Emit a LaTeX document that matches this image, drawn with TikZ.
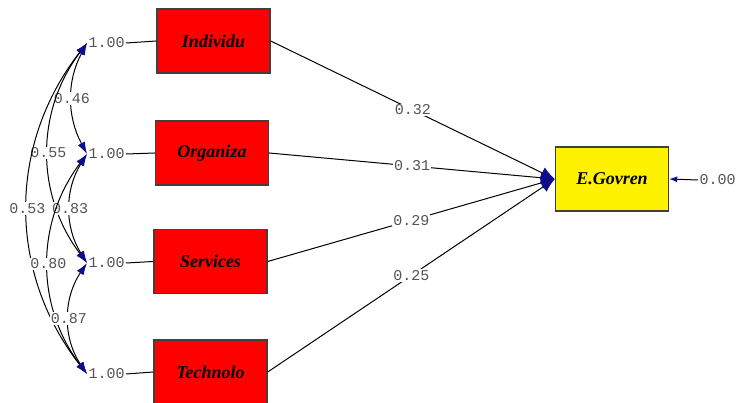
\documentclass[tikz,border=0pt]{standalone}
\usepackage{fontspec}
\setmainfont{Liberation Serif}
\newfontfamily\monofont{Liberation Mono}
\usetikzlibrary{arrows.meta,positioning,calc}
\definecolor{navytip}{rgb}{0.05,0.05,0.55}
\definecolor{labgray}{rgb}{0.33,0.33,0.33}
\tikzset{
    % Define standard arrow tip
    >={Latex[length=12pt,width=8pt,color=navytip]},
    % Define box styles
    latent/.style={
           draw=black!75,
           line width=1.4pt,
           fill=red,
           minimum width=113pt,
           minimum height=64pt,
           font=\fontsize{18}{18}\selectfont\bfseries\itshape},
    target/.style={
           latent,
           fill=yellow},
    % Define number styles
    num/.style={
           font=\fontsize{15}{15}\selectfont\monofont,
           text=labgray,
           inner sep=1pt},
    numbg/.style={
           num,
           fill=white},
    corr/.style={
           <->,
           line width=1pt}
}
\begin{document}
\begin{tikzpicture}[x=1pt,y=-1pt,line width=1pt]
\useasboundingbox (0,0) rectangle (739,403);

\node[latent] (ind) at (213.5,41) {Individu};
\node[latent] (org) at (212,153) {Organiza};
\node[latent] (ser) at (210.5,261.5) {Services};
\node[latent] (tec) at (210.5,372) {Technolo};

\node[target] (egov) at (612,179) {E.Govren};

\node[num, anchor=west] (v1) at (87,43) {1.00};
\node[num, anchor=west] (v2) at (87,154) {1.00};
\node[num, anchor=west] (v3) at (87,263) {1.00};
\node[num, anchor=west] (v4) at (87,374) {1.00};

\draw (v1.east) -- (ind.west);
\draw (v2.east) -- (org.west);
\draw (v3.east) -- (ser.west);
\draw (v4.east) -- (tec.west);

% paths to E.Govren
\draw[->, >={Latex[length=14pt,width=12pt,color=navytip]}] (ind.east) -- node[numbg] {0.32} (egov.west);
\draw[->, >={Latex[length=14pt,width=12pt,color=navytip]}] (org.east) -- node[numbg] {0.31} (egov.west);
\draw[->, >={Latex[length=14pt,width=12pt,color=navytip]}] (ser.east) -- node[numbg] {0.29} (egov.west);
\draw[->, >={Latex[length=14pt,width=12pt,color=navytip]}] (tec.east) -- node[numbg] {0.25} (egov.west);

% error term
\node[num, anchor=west] (err) at (698,180) {0.00};
\draw[->, >={Latex[length=8pt,width=6pt,color=navytip]}] (err.west) -- (egov.east);

% correlations
\draw[corr] (v1.west) to[bend right=28] node[numbg] {0.46} (v2.west);
\draw[corr] (v1.west) to[bend right=37] node[numbg] {0.55} (v3.west);
\draw[corr] (v1.west) to[bend right=38] node[numbg] {0.53} (v4.west);
\draw[corr] (v2.west) to[bend right=32] node[numbg] {0.83} (v3.west);
\draw[corr] (v2.west) to[bend right=37] node[numbg] {0.80} (v4.west);
\draw[corr] (v3.west) to[bend right=34] node[numbg] {0.87} (v4.west);

% \draw (egov.north) -- ++(0,-20);
\end{tikzpicture}
\end{document}
